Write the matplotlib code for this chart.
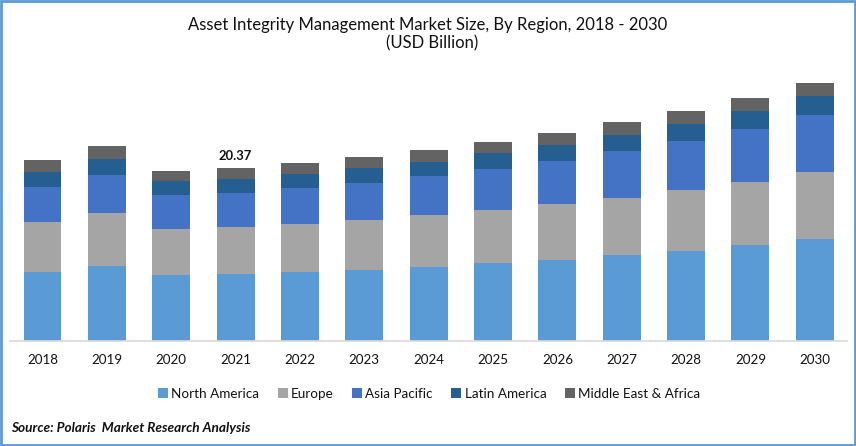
import matplotlib
matplotlib.use("Agg")
import matplotlib.pyplot as plt
from matplotlib.patches import Rectangle
import numpy as np

plt.rcParams["font.family"] = ["Lato", "DejaVu Sans"]

years = ["2018", "2019", "2020", "2021", "2022", "2023", "2024",
         "2025", "2026", "2027", "2028", "2029", "2030"]
north_america = [8.13, 8.83, 7.77, 7.88, 8.13, 8.36, 8.72, 9.19, 9.54, 10.13, 10.60, 11.31, 12.01]
europe = [5.89, 6.24, 5.42, 5.54, 5.65, 5.89, 6.12, 6.24, 6.60, 6.71, 7.18, 7.42, 7.89]
asia_pacific = [4.12, 4.48, 4.00, 4.00, 4.24, 4.36, 4.59, 4.83, 5.06, 5.54, 5.77, 6.24, 6.71]
latin_america = [1.77, 1.88, 1.65, 1.65, 1.65, 1.77, 1.65, 1.88, 1.88, 1.88, 2.00, 2.12, 2.24]
middle_east = [1.41, 1.53, 1.18, 1.30, 1.30, 1.30, 1.41, 1.30, 1.41, 1.53, 1.53, 1.53, 1.53]

series = [
    ("North America", north_america, "#5B9BD5"),
    ("Europe", europe, "#A5A5A5"),
    ("Asia Pacific", asia_pacific, "#4472C4"),
    ("Latin America", latin_america, "#255E91"),
    ("Middle East & Africa", middle_east, "#636363"),
]

W, H = 856, 446
fig = plt.figure(figsize=(W / 100, H / 100), dpi=100, facecolor="white")
ax = fig.add_axes([10 / W, 1 - 341 / H, 837 / W, 281 / H])

x = np.arange(len(years))
bottom = np.zeros(len(years))
for name, vals, col in series:
    ax.bar(x, vals, 0.59, bottom=bottom, color=col, label=name, linewidth=0)
    bottom += np.array(vals)

ax.set_xlim(-0.505, 12.5)
ax.set_ylim(0, 33.1)
ax.set_yticks([])
ax.set_xticks(x)
ax.set_xticklabels(years, fontsize=9.6, color="#111111")
ax.tick_params(axis="x", length=0, pad=9)
for s in ["top", "left", "right"]:
    ax.spines[s].set_visible(False)
ax.spines["bottom"].set_color("#D9D9D9")
ax.spines["bottom"].set_linewidth(1.2)

ax.text(3, bottom[3] + 0.75, "20.37", ha="center", va="bottom",
        fontsize=9.4, fontweight="bold", color="#111111")

fig.text(428 / W, 1 - 25 / H, "Asset Integrity Management Market Size, By Region, 2018 - 2030",
         ha="center", va="center", fontsize=12, color="#111111")
fig.text(432 / W, 1 - 43 / H, "(USD Billion)",
         ha="center", va="center", fontsize=12, color="#111111")

fig.legend(loc="center", bbox_to_anchor=(429 / W, 1 - 394 / H), ncol=5, frameon=False,
           fontsize=9.7, handlelength=0.75, handleheight=0.75, handletextpad=0.25,
           columnspacing=1.35, labelcolor="#111111")

fig.text(11 / W, 1 - 428 / H, "Source: Polaris  Market Research Analysis",
         ha="left", va="center", fontsize=9.8, fontweight="bold", style="italic", color="#111111")

# blue frame round the picture
fig.add_artist(Rectangle((1 / W, 1 / H), (W - 2) / W, (H - 2) / H, transform=fig.transFigure,
                         fill=False, edgecolor="#5B9BD5", linewidth=2))

fig.savefig("out.png", dpi=100, facecolor="white")
